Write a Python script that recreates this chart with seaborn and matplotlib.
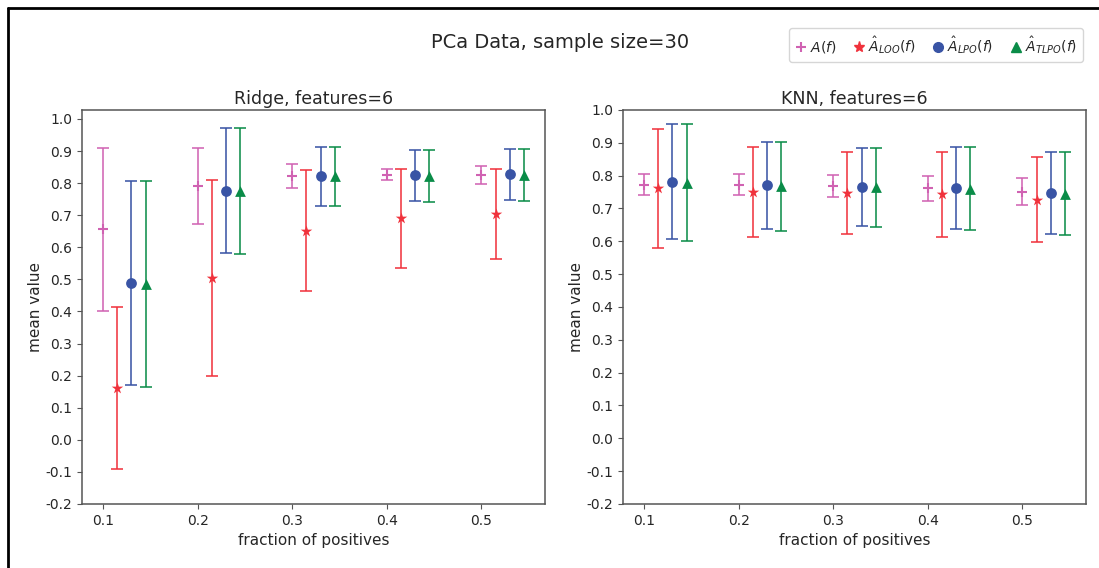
import matplotlib
matplotlib.use("Agg")
import matplotlib.pyplot as plt
from matplotlib.lines import Line2D
import seaborn as sns
import pandas as pd
import numpy as np

fractions = [0.1, 0.2, 0.3, 0.4, 0.5]
series_names = ["A", "LOO", "LPO", "TLPO"]
legend_labels = [r"$A(f)$", r"$\hat{A}_{LOO}(f)$", r"$\hat{A}_{LPO}(f)$", r"$\hat{A}_{TLPO}(f)$"]

# Ridge panel
ridge_mean = {
    "A":    [0.657, 0.792, 0.822, 0.826, 0.826],
    "LOO":  [0.162, 0.505, 0.652, 0.690, 0.704],
    "LPO":  [0.489, 0.777, 0.822, 0.824, 0.827],
    "TLPO": [0.485, 0.776, 0.822, 0.823, 0.826],
}
ridge_err = {
    "A":    [0.254, 0.119, 0.0375, 0.0175, 0.0285],
    "LOO":  [0.252, 0.306, 0.189, 0.155, 0.1415],
    "LPO":  [0.318, 0.195, 0.092, 0.0805, 0.0805],
    "TLPO": [0.3205, 0.197, 0.092, 0.0805, 0.0815],
}
# KNN panel
knn_mean = {
    "A":    [0.773, 0.773, 0.767, 0.761, 0.751],
    "LOO":  [0.762, 0.751, 0.747, 0.744, 0.727],
    "LPO":  [0.781, 0.770, 0.766, 0.763, 0.747],
    "TLPO": [0.778, 0.767, 0.764, 0.760, 0.745],
}
knn_err = {
    "A":    [0.032, 0.0315, 0.0335, 0.0375, 0.0405],
    "LOO":  [0.181, 0.1375, 0.1245, 0.1295, 0.129],
    "LPO":  [0.1755, 0.1335, 0.1195, 0.125, 0.1245],
    "TLPO": [0.178, 0.135, 0.1215, 0.126, 0.127],
}

colors = {"A": "#d062b2", "LOO": "#f0323c", "LPO": "#3954a5", "TLPO": "#0a8c48"}
markers = {"A": "+", "LOO": "*", "LPO": "o", "TLPO": "^"}
msizes = {"A": 55, "LOO": 75, "LPO": 60, "TLPO": 60}
offset_step = 0.015

sns.set_style("ticks")
plt.rcParams["font.family"] = ["DejaVu Sans"]
plt.rcParams["axes.unicode_minus"] = False
plt.rcParams["axes.edgecolor"] = "#555555"
plt.rcParams["xtick.color"] = "#555555"
plt.rcParams["ytick.color"] = "#555555"
plt.rcParams["xtick.labelcolor"] = "#262626"
plt.rcParams["ytick.labelcolor"] = "#262626"

fig = plt.figure(figsize=(10.99, 5.68), dpi=100)
ax1 = fig.add_axes([0.0746, 0.1127, 0.4213, 0.6937])
ax2 = fig.add_axes([0.5669, 0.1127, 0.4213, 0.6937])


def draw(ax, means, errs, title, ylim):
    for k, name in enumerate(series_names):
        xs = [f + k * offset_step for f in fractions]
        df = pd.DataFrame({"x": xs, "y": means[name], "e": errs[name]})
        ax.errorbar(df["x"], df["y"], yerr=df["e"], fmt="none",
                    ecolor=colors[name], alpha=0.8, capsize=4.3, elinewidth=1.4,
                    capthick=1.4, zorder=2)
        lw = 1.5 if markers[name] == "+" else 0
        sns.scatterplot(data=df, x="x", y="y", ax=ax, marker=markers[name],
                        color=colors[name], s=msizes[name], linewidth=lw,
                        edgecolor=colors[name] if lw == 0 else None,
                        zorder=3, legend=False)
    ax.set_xlim(0.07775, 0.56725)
    ax.set_ylim(*ylim)
    ax.set_xticks(fractions)
    ax.set_xticklabels([f"{f:.1f}" for f in fractions], fontsize=10)
    yt = [round(v, 1) for v in np.arange(-0.2, 1.01, 0.1)]
    ax.set_yticks(yt)
    ax.set_yticklabels([f"{v:.1f}" for v in yt], fontsize=10)
    ax.set_xlabel("fraction of positives", fontsize=11, color="#262626")
    ax.set_ylabel("mean value", fontsize=11, color="#262626", labelpad=2)
    ax.set_title(title, fontsize=12.5, color="#262626", pad=4)
    for s in ax.spines.values():
        s.set_linewidth(1.1)


draw(ax1, ridge_mean, ridge_err, "Ridge, features=6", (-0.2, 1.028))
draw(ax2, knn_mean, knn_err, "KNN, features=6", (-0.2, 1.0))

fig.suptitle("PCa Data, sample size=30", fontsize=14, color="#262626", x=0.51, y=0.942)

handles = [Line2D([], [], linestyle="none", marker=markers[n], color=colors[n],
                  markersize=7 if n != "LOO" else 8, markeredgewidth=1.5 if n == "A" else 1)
           for n in series_names]
fig.legend(handles, legend_labels, ncol=4, loc="upper right",
           bbox_to_anchor=(0.9854, 0.9507), borderaxespad=0, fontsize=10,
           frameon=True, handletextpad=0.25, columnspacing=1.2, handlelength=0.8,
           borderpad=0.45)

# figure border (top and left edges)
fig.add_artist(Line2D([0.0073, 0.0073], [0.0, 0.986], color="black", linewidth=2,
                      transform=fig.transFigure))
fig.add_artist(Line2D([0.0073, 1.0], [0.986, 0.986], color="black", linewidth=2,
                      transform=fig.transFigure))

fig.savefig("out.png", dpi=100)
